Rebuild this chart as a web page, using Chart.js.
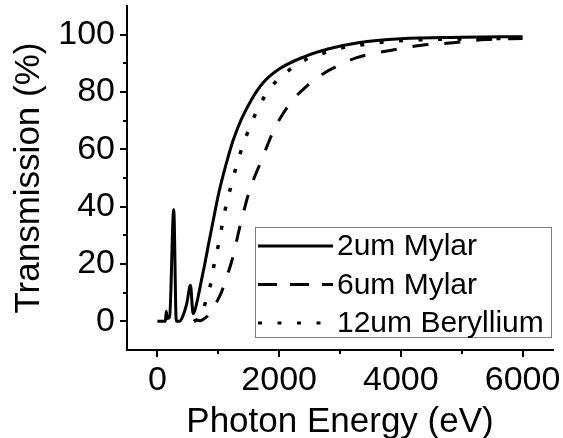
<!DOCTYPE html>
<html>
<head>
<meta charset="utf-8">
<script src="https://cdn.jsdelivr.net/npm/chart.js@4.4.0/dist/chart.umd.min.js"></script>
<style>
  html, body { margin: 0; padding: 0; background: #fff; }
</style>
</head>
<body>
<canvas id="chart" width="563" height="438"></canvas>
<script>
// Filter transmission curves (photon energy in eV, transmission in %)
const seriesNames = ['2um Mylar', '6um Mylar', '12um Beryllium'];

const mylar2Energy = [0, 100, 130, 145, 160, 200, 268, 310, 360, 411, 480, 543, 586, 614, 668, 720, 778, 850, 915, 1000,
  1080, 1170, 1250, 1380, 1550, 1740, 2000, 2400, 2800, 3300, 4000, 5000, 6000];
const mylar2Trans = [0, 0, 0, 3.5, 1, 1.5, 39, 0, 0, 1.5, 6, 12.6, 2.7, 3.8, 8.5, 14, 20, 28, 35, 44,
  51, 58, 63.5, 70.5, 77.5, 83.3, 88, 92.2, 95, 97.2, 98.6, 99.1, 99.3];

const mylar6Energy = [600, 650, 700, 760, 820, 900, 980, 1053, 1130, 1217, 1290, 1354, 1420, 1490, 1580, 1683, 1790, 1903,
  2050, 2232, 2450, 2725, 3000, 3275, 3823, 4344, 4865, 5386, 6000];
const mylar6Trans = [0, 0.5, 0.2, 0.8, 1.8, 4, 7, 10.2, 15, 20.7, 27, 33, 38.5, 44, 49.5, 54.8, 60.5, 66.3,
  72, 77.4, 82, 86.4, 89.5, 92, 94.5, 96.3, 97.2, 98.3, 98.7];

const be12Energy = [600, 700, 750, 806, 888, 943, 1014, 1069, 1135, 1217, 1300, 1399, 1519, 1656, 1848, 2149, 2462, 2781,
  3094, 3411, 3713, 4042, 5000, 6000];
const be12Trans = [0, 1.5, 4, 7.9, 14.3, 21.3, 27.7, 34.3, 41, 47.8, 54.4, 61.1, 67.8, 74.4, 81.2, 87.4, 91.6, 93.9,
  95.7, 96.6, 97.4, 98, 98.5, 98.8];

// axis ticks: every value gets a tick mark, labelled ones get a longer mark
const xTickValues = [0, 1000, 2000, 3000, 4000, 5000, 6000];
const xLabelValues = [0, 2000, 4000, 6000];
const yTickValues = [0, 10, 20, 30, 40, 50, 60, 70, 80, 90, 100];
const yLabelValues = [0, 20, 40, 60, 80, 100];

const lineDashes = [[], [16, 16], [4, 15.5]];
const legendDashes = [[], [19, 13], [4, 15.5]];

const toPoints = (xs, ys) => xs.map((x, i) => ({ x: x, y: ys[i] }));

Chart.defaults.font.family = '"Liberation Sans", Arial, sans-serif';
Chart.defaults.color = '#000';

// outward tick marks, major and minor
const tickMarks = {
  id: 'tickMarks',
  afterDraw(chart) {
    const { ctx } = chart;
    const xs = chart.scales.x, ys = chart.scales.y;
    ctx.save();
    ctx.strokeStyle = '#000';
    ctx.lineWidth = 2;
    ctx.beginPath();
    xTickValues.forEach(v => {
      const px = Math.round(xs.getPixelForValue(v));
      const len = xLabelValues.includes(v) ? 7 : 4;
      ctx.moveTo(px, ys.bottom);
      ctx.lineTo(px, ys.bottom + len);
    });
    yTickValues.forEach(v => {
      const py = Math.round(ys.getPixelForValue(v));
      const len = yLabelValues.includes(v) ? 7 : 4;
      ctx.moveTo(xs.left, py);
      ctx.lineTo(xs.left - len, py);
    });
    ctx.stroke();
    ctx.restore();
  }
};

// boxed legend inside the plot, lower right
const boxLegend = {
  id: 'boxLegend',
  afterDatasetsDraw(chart) {
    const { ctx } = chart;
    const bx = 255.5, by = 227.5, bw = 296, bh = 110;
    ctx.save();
    ctx.fillStyle = '#fff';
    ctx.fillRect(bx, by, bw, bh);
    ctx.strokeStyle = '#808080';
    ctx.lineWidth = 1;
    ctx.strokeRect(bx, by, bw, bh);
    chart.data.datasets.forEach((ds, i) => {
      const y = 246 + i * 38.5;
      ctx.strokeStyle = '#000';
      ctx.lineWidth = 3;
      ctx.lineCap = 'butt';
      ctx.setLineDash(legendDashes[i]);
      ctx.beginPath();
      ctx.moveTo(258, y);
      ctx.lineTo(333, y);
      ctx.stroke();
      ctx.setLineDash([]);
      ctx.fillStyle = '#000';
      ctx.font = '30px "Liberation Sans", Arial, sans-serif';
      ctx.textBaseline = 'middle';
      ctx.textAlign = 'left';
      ctx.fillText(ds.label, 337, y + 1);
    });
    ctx.restore();
  }
};

// keep the plot box fixed: no extra room for end labels
const fixBox = (s, size) => {
  if (s.isHorizontal()) s.height = size; else s.width = size;
  s.paddingTop = 0;
  s.paddingBottom = 0;
  s.paddingLeft = 0;
  s.paddingRight = 0;
};

const datasets = [
  toPoints(mylar2Energy, mylar2Trans),
  toPoints(mylar6Energy, mylar6Trans),
  toPoints(be12Energy, be12Trans)
].map((pts, i) => ({
  label: seriesNames[i],
  data: pts,
  borderColor: '#000',
  borderWidth: i === 2 ? 3.5 : 3,
  borderDash: lineDashes[i],
  borderCapStyle: 'butt',
  pointRadius: 0,
  fill: false,
  cubicInterpolationMode: 'monotone'
}));

new Chart(document.getElementById('chart'), {
  type: 'line',
  data: { datasets: datasets },
  options: {
    responsive: false,
    animation: false,
    events: [],
    layout: { padding: { top: 6, right: 10, left: 0, bottom: 0 } },
    plugins: { legend: { display: false }, tooltip: { enabled: false } },
    scales: {
      x: {
        type: 'linear',
        min: -500,
        max: 6500,
        afterFit: s => fixBox(s, 88),
        afterBuildTicks: s => { s.ticks = xLabelValues.map(v => ({ value: v })); },
        grid: { display: true, drawOnChartArea: false, drawTicks: false },
        border: { display: true, color: '#000', width: 2 },
        ticks: { font: { size: 34 }, padding: 10, maxRotation: 0, autoSkip: false, callback: v => String(v) },
        title: { display: true, text: 'Photon Energy (eV)', font: { size: 35 }, padding: { top: 0, bottom: -5 } }
      },
      y: {
        type: 'linear',
        min: -10,
        max: 110,
        afterFit: s => fixBox(s, 127),
        afterBuildTicks: s => { s.ticks = yLabelValues.map(v => ({ value: v })); },
        grid: { display: true, drawOnChartArea: false, drawTicks: false },
        border: { display: true, color: '#000', width: 2 },
        ticks: { font: { size: 34 }, padding: 12, autoSkip: false, callback: v => String(v) },
        title: { display: true, text: 'Transmission (%)', font: { size: 35 }, padding: { top: 8, bottom: 0 } }
      }
    }
  },
  plugins: [tickMarks, boxLegend]
});
</script>
</body>
</html>
